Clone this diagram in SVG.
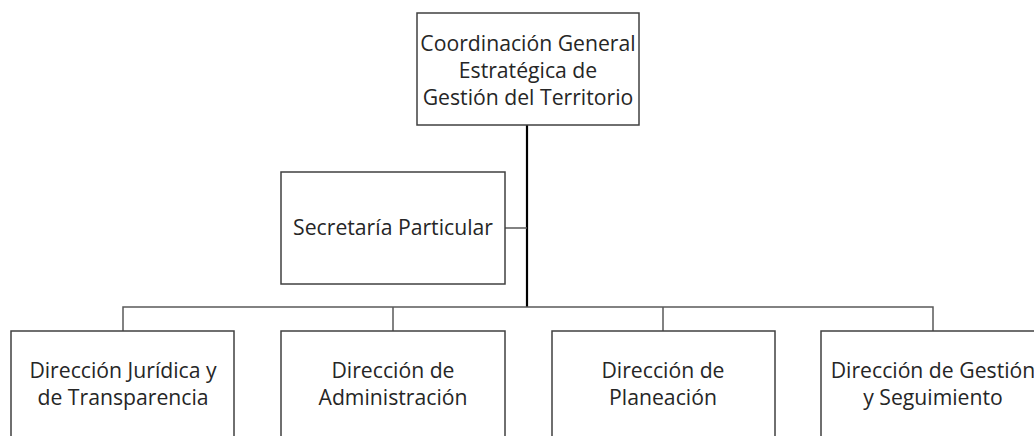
<svg xmlns="http://www.w3.org/2000/svg" width="1034" height="436" viewBox="0 0 1034 436">
<style>
.box{fill:#fff;stroke:#404040;stroke-width:1.5}
.t{font-family:"Open Sans","Noto Sans",sans-serif;font-size:21.2px;fill:#262626;text-anchor:middle}
.c{fill:none;stroke:#595959;stroke-width:1.5}
.m{fill:none;stroke:#000;stroke-width:2.2}
</style>
<rect width="1034" height="436" fill="#fff"/>
<g id="connectors">
<line class="m" x1="527" y1="125" x2="527" y2="307"/>
<line class="c" x1="505" y1="228" x2="527" y2="228"/>
<polyline class="c" points="123,331 123,307 933,307 933,331"/>
<line class="c" x1="393" y1="307" x2="393" y2="331"/>
<line class="c" x1="663" y1="307" x2="663" y2="331"/>
</g>
<g id="n0"><rect class="box" x="417" y="13" width="222" height="112"/>
<text class="t" x="528" y="51">Coordinación General</text>
<text class="t" x="528" y="78">Estratégica de</text>
<text class="t" x="528" y="105">Gestión del Territorio</text></g>
<g id="n1"><rect class="box" x="281" y="172" width="224" height="112"/>
<text class="t" x="393" y="235">Secretaría Particular</text></g>
<g id="n2"><rect class="box" x="11" y="331" width="223" height="120"/>
<text class="t" x="123" y="378">Dirección Jurídica y</text>
<text class="t" x="123" y="405">de Transparencia</text></g>
<g id="n3"><rect class="box" x="281" y="331" width="224" height="120"/>
<text class="t" x="393" y="378">Dirección de</text>
<text class="t" x="393" y="405">Administración</text></g>
<g id="n4"><rect class="box" x="552" y="331" width="223" height="120"/>
<text class="t" x="663" y="378">Dirección de</text>
<text class="t" x="663" y="405">Planeación</text></g>
<g id="n5"><rect class="box" x="821" y="331" width="224" height="120"/>
<text class="t" x="933" y="378">Dirección de Gestión</text>
<text class="t" x="933" y="405">y Seguimiento</text></g>
</svg>
